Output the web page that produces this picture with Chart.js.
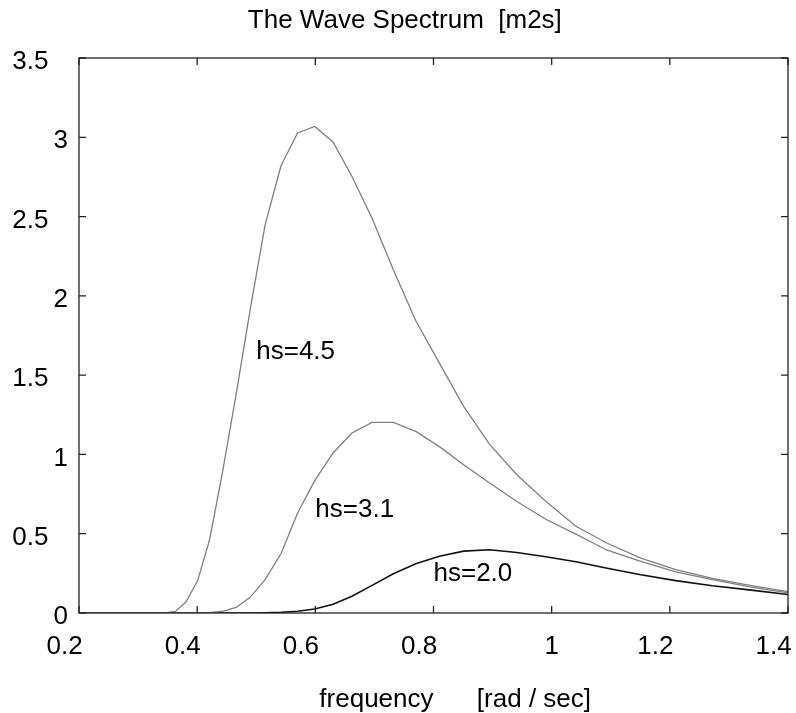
<!DOCTYPE html>
<html>
<head>
<meta charset="utf-8">
<title>The Wave Spectrum</title>
<script src="https://cdn.jsdelivr.net/npm/chart.js@4/dist/chart.umd.min.js"></script>
<style>
  body { margin: 0; background: #fff; }
  #wrap { width: 796px; height: 713px; }
</style>
</head>
<body>
<div id="wrap"><canvas id="myChart" width="796" height="713"></canvas></div>
<script>
// frequency grid [rad/sec] (vertices of the polylines)
var freq = [0.209, 0.219, 0.231, 0.243, 0.255, 0.268, 0.282, 0.297, 0.312, 0.328,
  0.345, 0.363, 0.381, 0.401, 0.421, 0.443, 0.466, 0.490, 0.515, 0.542,
  0.570, 0.599, 0.630, 0.662, 0.696, 0.732, 0.770, 0.810, 0.851, 0.895,
  0.941, 0.990, 1.041, 1.094, 1.151, 1.210, 1.272, 1.338, 1.406];

// spectrum values [m2s]
var hs45 = [0, 0, 0, 0, 0, 0, 0, 0, 0, 0,
  0, 0.01, 0.069, 0.206, 0.462, 0.89, 1.38, 1.92, 2.448, 2.822,
  3.027, 3.068, 2.97, 2.753, 2.49, 2.165, 1.843, 1.576, 1.303, 1.063,
  0.872, 0.705, 0.547, 0.44, 0.346, 0.274, 0.219, 0.173, 0.131];

var hs31 = [0, 0, 0, 0, 0, 0, 0, 0, 0, 0,
  0, 0, 0, 0, 0.002, 0.011, 0.035, 0.1, 0.21, 0.375,
  0.631, 0.835, 1.009, 1.135, 1.202, 1.202, 1.145, 1.049, 0.935, 0.82,
  0.703, 0.591, 0.497, 0.396, 0.325, 0.26, 0.21, 0.163, 0.124];

var hs20 = [0, 0, 0, 0, 0, 0, 0, 0, 0, 0,
  0, 0, 0, 0, 0, 0, 0, 0, 0.002, 0.005,
  0.011, 0.025, 0.055, 0.106, 0.174, 0.247, 0.311, 0.358, 0.39, 0.399,
  0.382, 0.355, 0.323, 0.282, 0.241, 0.204, 0.172, 0.144, 0.114];

// curve labels: [text, x, y]
var curveLabels = [["hs=4.5", 0.5, 1.65], ["hs=3.1", 0.6, 0.65], ["hs=2.0", 0.8, 0.25]];

var FONT = "'Liberation Sans', Arial, Helvetica, sans-serif";

function points(ys) {
  return freq.map(function (f, i) { return { x: f, y: ys[i] }; });
}

// box round the axes with inward ticks, plus the text labels on the curves
var boxPlugin = {
  id: "box",
  afterDraw: function (chart) {
    var ctx = chart.ctx;
    var a = chart.chartArea;
    var xs = chart.scales.x, ys = chart.scales.y;
    var len = 7;
    ctx.save();
    ctx.strokeStyle = "#222";
    ctx.lineWidth = 1.3;
    ctx.strokeRect(a.left, a.top, a.right - a.left, a.bottom - a.top);
    ctx.beginPath();
    xs.ticks.forEach(function (t) {
      var px = xs.getPixelForValue(t.value);
      ctx.moveTo(px, a.bottom); ctx.lineTo(px, a.bottom - len);
      ctx.moveTo(px, a.top); ctx.lineTo(px, a.top + len);
    });
    ys.ticks.forEach(function (t) {
      var py = ys.getPixelForValue(t.value);
      ctx.moveTo(a.left, py); ctx.lineTo(a.left + len, py);
      ctx.moveTo(a.right, py); ctx.lineTo(a.right - len, py);
    });
    ctx.stroke();

    ctx.fillStyle = "#000";
    ctx.font = "26px " + FONT;
    ctx.textAlign = "left";
    ctx.textBaseline = "middle";
    curveLabels.forEach(function (l) {
      ctx.fillText(l[0], xs.getPixelForValue(l[1]), ys.getPixelForValue(l[2]));
    });
    ctx.restore();
  }
};

function init() {
  var ctx = document.getElementById("myChart").getContext("2d");
  new Chart(ctx, {
    type: "line",
    data: {
      datasets: [
        { label: "hs=4.5", data: points(hs45), borderColor: "#7f7f7f", borderWidth: 1.3 },
        { label: "hs=3.1", data: points(hs31), borderColor: "#7f7f7f", borderWidth: 1.3 },
        { label: "hs=2.0", data: points(hs20), borderColor: "#111", borderWidth: 1.6 }
      ]
    },
    options: {
      responsive: false,
      devicePixelRatio: 1,
      animation: false,
      elements: { point: { radius: 0 }, line: { tension: 0 } },
      layout: { padding: { left: 0, right: 8, top: 0, bottom: 0 } },
      plugins: {
        legend: { display: false },
        tooltip: { enabled: false },
        title: {
          display: true,
          text: "   The Wave Spectrum  [m2s]",
          color: "#000",
          font: { family: FONT, size: 26, weight: "normal", lineHeight: 1.2 },
          padding: { top: 5, bottom: 21.8 }
        }
      },
      scales: {
        x: {
          type: "linear",
          min: 0.2,
          max: 1.4,
          afterFit: function (s) {
            s.height = 100;
            s.paddingLeft = 0;
            s.paddingRight = 0;
          },
          grid: { display: false, drawTicks: false },
          border: { display: false },
          ticks: {
            stepSize: 0.2,
            padding: 18,
            color: "#000",
            font: { family: FONT, size: 26 },
            maxRotation: 0,
            autoSkip: false,
            callback: function (v) {
              var r = Math.round(v * 10) / 10;
              return r === 1 ? "1" : String(r) + "    ";
            }
          },
          title: {
            display: true,
            text: "      frequency      [rad / sec]",
            color: "#000",
            font: { family: FONT, size: 26, lineHeight: 1 },
            padding: { top: 0, bottom: 0 }
          }
        },
        y: {
          min: 0,
          max: 3.5,
          afterFit: function (s) {
            s.width = 79;
            s.paddingTop = 0;
            s.paddingBottom = 0;
          },
          grid: { display: false, drawTicks: false },
          border: { display: false },
          ticks: {
            stepSize: 0.5,
            padding: 11,
            labelOffset: 4,
            color: "#000",
            font: { family: FONT, size: 26 },
            callback: function (v) {
              var r = Math.round(v * 10) / 10;
              return r % 1 === 0 ? String(r) : String(r) + "  \u2009";
            }
          }
        }
      }
    },
    plugins: [boxPlugin]
  });
}

window.addEventListener("load", init);
</script>
</body>
</html>
